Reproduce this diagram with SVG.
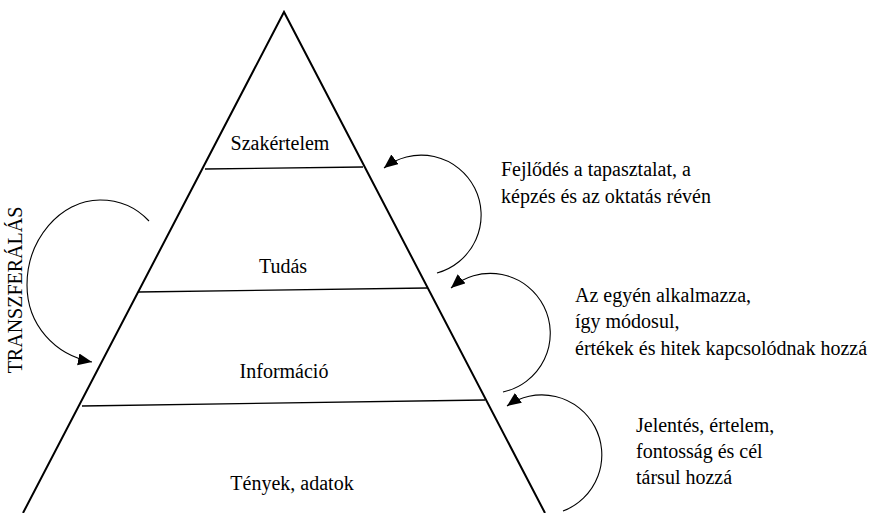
<svg xmlns="http://www.w3.org/2000/svg" width="892" height="513" viewBox="0 0 892 513">
<style>
.t{font-family:"Liberation Serif","DejaVu Serif",serif;font-size:20px;fill:#000}
.c{text-anchor:middle}
.tri{fill:none;stroke:#000;stroke-width:2}
.lvl{stroke:#000;stroke-width:1.3;fill:none}
.arc{fill:none;stroke:#000;stroke-width:1.1}
</style>
<defs>
<marker id="ah" markerUnits="userSpaceOnUse" markerWidth="16" markerHeight="14" refX="14" refY="6" orient="auto">
<path d="M0,0 L14,6 L0,12 z" fill="#000"/>
</marker>
</defs>
<rect width="892" height="513" fill="#fff"/>
<g id="pyramid">
<path class="tri" d="M23,513 L284,12 L545,513"/>
</g>
<g id="level-szakertelem">
<line class="lvl" x1="205" y1="169" x2="363" y2="167"/>
<text class="t c" font-family="Liberation Serif, serif" x="280" y="150">Szakértelem</text>
</g>
<g id="level-tudas">
<line class="lvl" x1="138" y1="292" x2="427" y2="288"/>
<text class="t c" font-family="Liberation Serif, serif" x="283" y="273">Tudás</text>
</g>
<g id="level-informacio">
<line class="lvl" x1="82" y1="406" x2="485" y2="400"/>
<text class="t c" font-family="Liberation Serif, serif" x="284" y="378">Információ</text>
</g>
<g id="level-tenyek">
<text class="t c" font-family="Liberation Serif, serif" x="292" y="490">Tények, adatok</text>
</g>
<g id="label-transzferalas">
<text class="t c" font-family="Liberation Serif, serif" transform="translate(22,290) rotate(-90)">TRANSZFERÁLÁS</text>
</g>
<g id="label-fejlodes" class="t" font-family="Liberation Serif, serif">
<text class="t" x="501" y="176">Fejlődés a tapasztalat, a</text>
<text class="t" x="501" y="203">képzés és az oktatás révén</text>
</g>
<g id="label-egyen" class="t" font-family="Liberation Serif, serif">
<text class="t" x="575" y="302">Az egyén alkalmazza,</text>
<text class="t" x="575" y="328">így módosul,</text>
<text class="t" x="575" y="355">értékek és hitek kapcsolódnak hozzá</text>
</g>
<g id="label-jelentes" class="t" font-family="Liberation Serif, serif">
<text class="t" x="636" y="432">Jelentés, értelem,</text>
<text class="t" x="636" y="458">fontosság és cél</text>
<text class="t" x="636" y="484">társul hozzá</text>
</g>
<g id="connectors">
<path class="arc" marker-end="url(#ah)" d="M149,221 C135,206 118,200 100,200 C60,200 27,240 27,285 C27,325 55,355 92,362"/>
<path class="arc" marker-end="url(#ah)" d="M437,273 A60,60 0 1 0 384,168"/>
<path class="arc" marker-end="url(#ah)" d="M503,392 A60,60 0 1 0 451,288"/>
<path class="arc" marker-end="url(#ah)" d="M563,511 A60,60 0 1 0 507,406"/>
</g>
</svg>
